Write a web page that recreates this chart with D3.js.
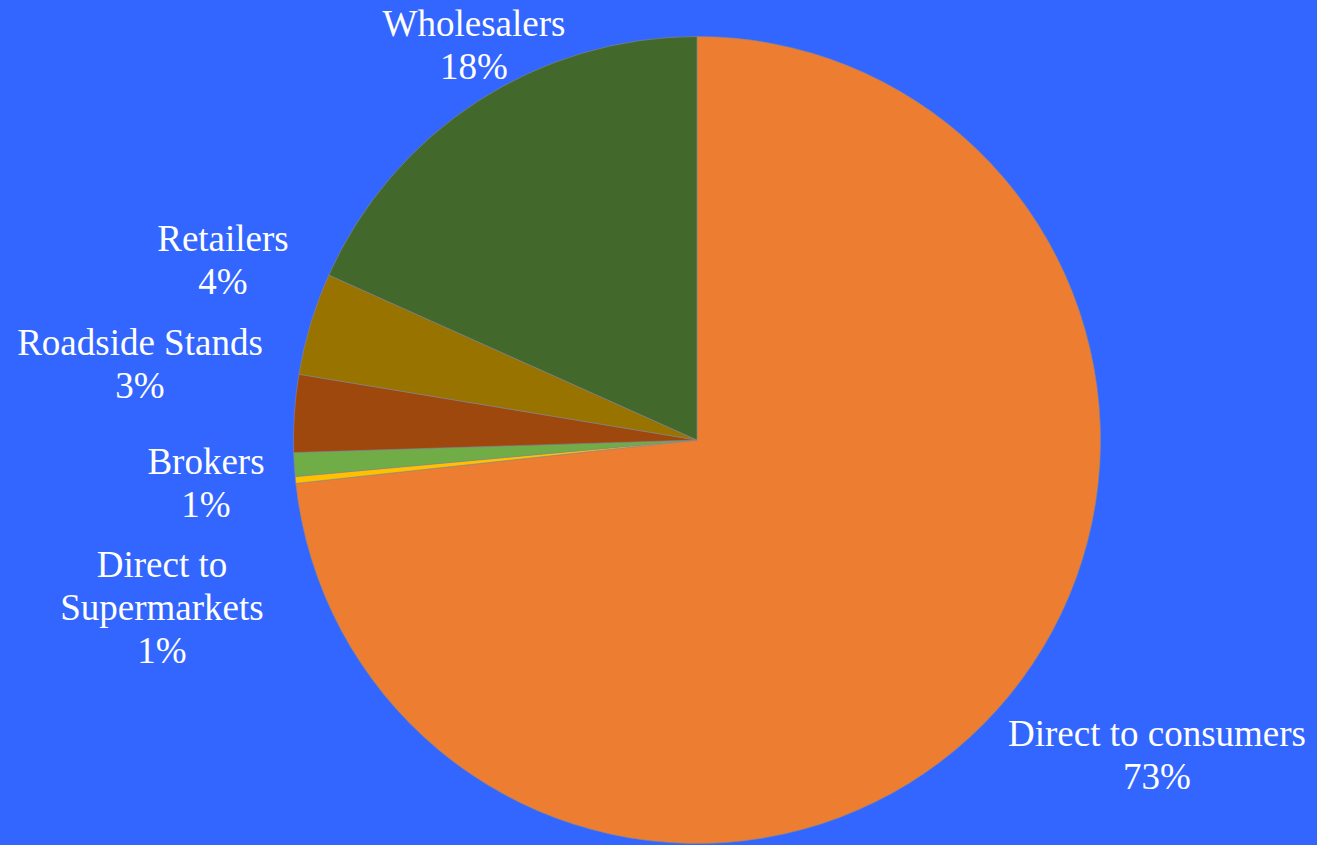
<!DOCTYPE html>
<html>
<head>
<meta charset="utf-8">
<script src="https://cdn.jsdelivr.net/npm/d3@7"></script>
<style>
  html, body { margin: 0; padding: 0; background: #3366FF; }
  svg { display: block; }
</style>
</head>
<body>
<svg id="chart" width="1317" height="845"></svg>
<script>
// Sales channels, share of total (percent), clockwise from 12 o'clock
const channels = ["Direct to consumers", "Direct to Supermarkets", "Brokers", "Roadside Stands", "Retailers", "Wholesalers"];
const shares   = [73.3, 0.27, 0.95, 3.1, 4.1, 18.3];
const pctText  = ["73%", "1%", "1%", "3%", "4%", "18%"];
const colors   = ["#ED7D31", "#FFC000", "#70AD47", "#9E480E", "#997300", "#43682B"];

// label lines and anchor points (centre x, first baseline y)
const labelLines = [
  ["Direct to consumers"],
  ["Direct to", "Supermarkets"],
  ["Brokers"],
  ["Roadside Stands"],
  ["Retailers"],
  ["Wholesalers"]
];
const labelPos = [
  [1157, 746],
  [162, 577],
  [206, 474],
  [140, 355],
  [223, 251],
  [474, 36]
];

const svg = d3.select("#chart");
const cx = 697, cy = 440, r = 403.5;
const lineH = 43;

const pie = d3.pie().sort(null).value(d => d.v);
const arc = d3.arc().innerRadius(0).outerRadius(r);
const data = channels.map((c, i) => ({ name: c, v: shares[i], i }));

const g = svg.append("g").attr("transform", `translate(${cx},${cy})`);
g.selectAll("path")
  .data(pie(data))
  .join("path")
  .attr("d", arc)
  .attr("fill", d => colors[d.data.i])
  .attr("stroke", "#8a8a8a")
  .attr("stroke-width", 0.6);

const labels = svg.append("g")
  .attr("font-family", "'Liberation Serif', 'Times New Roman', serif")
  .attr("font-size", 37)
  .attr("fill", "#ffffff")
  .attr("text-anchor", "middle");

channels.forEach((c, i) => {
  const lines = labelLines[i].concat([pctText[i]]);
  const t = labels.append("text")
    .attr("x", labelPos[i][0])
    .attr("y", labelPos[i][1]);
  lines.forEach((ln, k) => {
    t.append("tspan")
      .attr("x", labelPos[i][0])
      .attr("dy", k === 0 ? 0 : lineH)
      .text(ln);
  });
});
</script>
</body>
</html>
